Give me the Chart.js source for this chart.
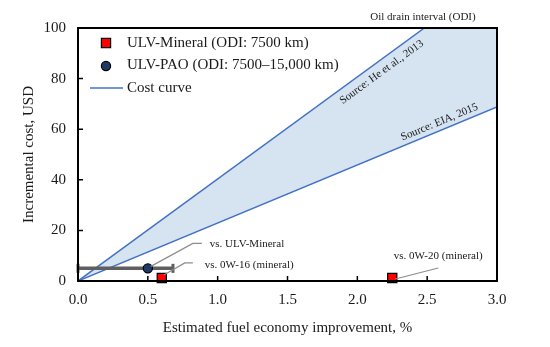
<!DOCTYPE html>
<html>
<head>
<meta charset="utf-8">
<script src="https://cdn.jsdelivr.net/npm/chart.js@4/dist/chart.umd.min.js"></script>
<style>
  html, body { margin: 0; padding: 0; background: #fff; }
</style>
</head>
<body>
<canvas id="chart" width="550" height="347"></canvas>
<script>
// data
const xTicks = [0, 0.5, 1, 1.5, 2, 2.5, 3];
const yTicks = [0, 20, 40, 60, 80, 100];
const heCurve = [{ x: 0, y: 0 }, { x: 2.48, y: 100 }];
const eiaCurve = [{ x: 0, y: 0 }, { x: 3, y: 68.8 }];
const odiBand = [{ x: 0, y: 0 }, { x: 2.48, y: 100 }, { x: 3, y: 100 }];
const mineralPts = [{ x: 0.6, y: 1.2 }, { x: 2.25, y: 1.2 }];
const mineralNotes = ["vs. 0W-16 (mineral)", "vs. 0W-20 (mineral)"];
const paoPts = [{ x: 0.5, y: 5 }];
const paoNotes = ["vs. ULV-Mineral"];
const paoRange = [{ x: 0, y: 5 }, { x: 0.68, y: 5 }];
const legendItems = ["ULV-Mineral (ODI: 7500 km)", "ULV-PAO (ODI: 7500\u201315,000 km)", "Cost curve"];

const SERIF = "'Liberation Serif', 'Times New Roman', serif";
const TXT = "#1a1a1a";
const BLUE = "#4472C4";
const RED = "#FF0000";
const NAVY = "#1F3864";

// frame, inner ticks, legend and the small notes
const extras = {
    id: "extras",
    afterDatasetsDraw(chart) {
        const { ctx, chartArea: a, scales: { x, y } } = chart;
        ctx.save();

        // inward tick marks
        ctx.strokeStyle = "#000";
        ctx.lineWidth = 1.5;
        ctx.beginPath();
        xTicks.forEach(v => {
            if (v > 0 && v < 3) {
                const px = x.getPixelForValue(v);
                ctx.moveTo(px, a.bottom); ctx.lineTo(px, a.bottom - 5);
            }
        });
        yTicks.forEach(v => {
            if (v > 0 && v < 100) {
                const py = y.getPixelForValue(v);
                ctx.moveTo(a.left, py); ctx.lineTo(a.left + 5, py);
            }
        });
        ctx.stroke();

        // frame
        ctx.lineWidth = 2;
        ctx.strokeRect(a.left, a.top, a.right - a.left, a.bottom - a.top);

        // legend
        const lx = a.left + 28, tx = a.left + 49;
        ctx.fillStyle = RED; ctx.strokeStyle = "#000"; ctx.lineWidth = 1.2;
        ctx.beginPath(); ctx.rect(lx - 4.6, a.top + 15 - 4.6, 9.2, 9.2); ctx.fill(); ctx.stroke();
        ctx.fillStyle = NAVY;
        ctx.beginPath(); ctx.arc(lx, a.top + 38, 4.6, 0, Math.PI * 2); ctx.fill(); ctx.stroke();
        ctx.strokeStyle = BLUE; ctx.lineWidth = 1.5;
        ctx.beginPath(); ctx.moveTo(a.left + 12, a.top + 60); ctx.lineTo(a.left + 45, a.top + 60); ctx.stroke();

        ctx.fillStyle = TXT;
        ctx.font = "15px " + SERIF;
        ctx.textBaseline = "middle";
        ctx.textAlign = "left";
        legendItems.forEach((t, i) => ctx.fillText(t, tx, a.top + 15 + i * 22.5));

        // header above the frame
        ctx.font = "11px " + SERIF;
        ctx.textAlign = "center";
        ctx.fillText("Oil drain interval (ODI)", 423, a.top - 11);

        // source labels along the cost curves
        const along = (curve, xv, off, text) => {
            const p0 = { x: x.getPixelForValue(curve[0].x), y: y.getPixelForValue(curve[0].y) };
            const p1 = { x: x.getPixelForValue(curve[1].x), y: y.getPixelForValue(curve[1].y) };
            const ang = Math.atan2(p1.y - p0.y, p1.x - p0.x);
            const t = (xv - curve[0].x) / (curve[1].x - curve[0].x);
            const bx = p0.x + (p1.x - p0.x) * t, by = p0.y + (p1.y - p0.y) * t;
            ctx.save();
            ctx.translate(bx - Math.sin(ang) * off, by + Math.cos(ang) * off);
            ctx.rotate(ang);
            ctx.fillText(text, 0, 0);
            ctx.restore();
        };
        along(heCurve, 2.13, 10.5, "Source: He et al., 2013");
        along(eiaCurve, 2.61, -8, "Source: EIA, 2015");

        // leader lines + notes
        const note = (pt, pts, text, tdx, tdy, align) => {
            const px = x.getPixelForValue(pt.x), py = y.getPixelForValue(pt.y);
            ctx.strokeStyle = "#8c8c8c"; ctx.lineWidth = 1.2;
            ctx.beginPath();
            ctx.moveTo(px + pts[0][0], py + pts[0][1]);
            pts.slice(1).forEach(p => ctx.lineTo(px + p[0], py + p[1]));
            ctx.stroke();
            ctx.fillStyle = TXT;
            ctx.textAlign = align;
            ctx.fillText(text, px + tdx, py + tdy);
        };
        note(paoPts[0], [[3, -2], [45, -25], [54, -25]], paoNotes[0], 62, -24, "left");
        note(mineralPts[0], [[2, -3], [23, -15], [31, -15]], mineralNotes[0], 43, -13, "left");
        note(mineralPts[1], [[3, 1], [46, -10]], mineralNotes[1], 46, -22, "center");

        ctx.restore();
    }
};

const tickFont = { family: SERIF, size: 15 };

new Chart(document.getElementById("chart"), {
    type: "scatter",
    data: {
        datasets: [
            {
                label: "ODI band",
                data: odiBand,
                showLine: true,
                borderWidth: 0,
                pointRadius: 0,
                backgroundColor: "rgb(214,227,241)",
                fill: "+1",
                order: 10
            },
            {
                label: "EIA",
                data: eiaCurve,
                showLine: true,
                borderColor: BLUE,
                borderWidth: 1.5,
                pointRadius: 0,
                order: 5
            },
            {
                label: "He",
                data: heCurve,
                showLine: true,
                borderColor: BLUE,
                borderWidth: 1.5,
                pointRadius: 0,
                order: 5
            },
            {
                label: "PAO range",
                data: paoRange,
                showLine: true,
                borderColor: "#5f5f5f",
                borderWidth: 3.5,
                pointStyle: "line",
                rotation: 90,
                pointRadius: 4.5,
                pointBorderWidth: 3,
                pointBorderColor: "#5f5f5f",
                clip: false,
                order: 3
            },
            {
                label: legendItems[1],
                data: paoPts,
                pointStyle: "circle",
                pointRadius: 4.6,
                backgroundColor: NAVY,
                borderColor: "#000",
                borderWidth: 1.2,
                clip: false,
                order: 1
            },
            {
                label: legendItems[0],
                data: mineralPts,
                pointStyle: "rect",
                pointRadius: 6.5,
                backgroundColor: RED,
                borderColor: "#000",
                borderWidth: 1.2,
                clip: false,
                order: 0
            }
        ]
    },
    options: {
        responsive: false,
        animation: false,
        layout: { padding: { top: 28, right: 53, left: 0, bottom: 0 } },
        plugins: {
            legend: { display: false },
            tooltip: { enabled: false }
        },
        scales: {
            x: {
                type: "linear",
                min: 0,
                max: 3,
                afterBuildTicks: s => { s.ticks = xTicks.map(v => ({ value: v })); },
                afterFit: s => { s.height = 66; },
                grid: { display: false, drawTicks: false },
                border: { display: false },
                ticks: { font: tickFont, color: TXT, padding: 10, maxRotation: 0, callback: v => v.toFixed(1) },
                title: {
                    display: true,
                    text: "Estimated fuel economy improvement, %",
                    font: tickFont,
                    color: TXT,
                    padding: { top: 0, bottom: 10 }
                }
            },
            y: {
                type: "linear",
                min: 0,
                max: 100,
                afterBuildTicks: s => { s.ticks = yTicks.map(v => ({ value: v })); },
                afterFit: s => { s.width = 78; },
                grid: { display: false, drawTicks: false },
                border: { display: false },
                ticks: { font: tickFont, color: TXT, padding: 12 },
                title: {
                    display: true,
                    text: "Incremental cost, USD",
                    font: tickFont,
                    color: TXT,
                    padding: { top: 20, bottom: 0 }
                }
            }
        }
    },
    plugins: [extras]
});
</script>
</body>
</html>
